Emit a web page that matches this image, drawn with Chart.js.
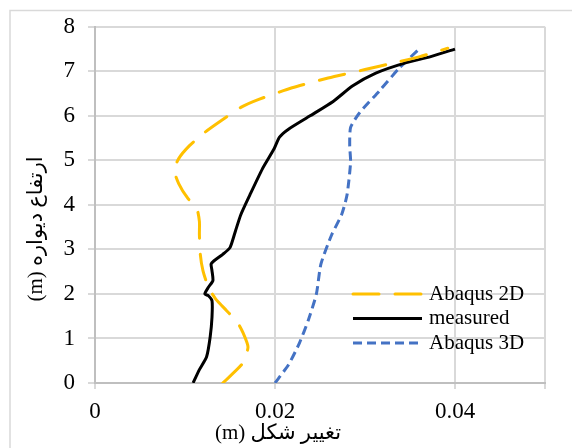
<!DOCTYPE html>
<html>
<head>
<meta charset="utf-8">
<script src="https://cdn.jsdelivr.net/npm/chart.js@4.4.1/dist/chart.umd.min.js"></script>
<style>
  body { margin: 0; background: #fff; }
  canvas { display: block; }
</style>
</head>
<body>
<canvas id="graficoDeformacion" width="572" height="448"></canvas>
<script>
// ------------------------------------------------ DATOS ------------------------------------------------

const abaqus2dX = [0.0142, 0.0164, 0.0170, 0.0164, 0.0158, 0.0146, 0.0134, 0.0126, 0.0120, 0.0117, 0.0116, 0.0116, 0.0113, 0.0103, 0.0093, 0.0088, 0.0093, 0.0105, 0.0122, 0.0140, 0.0162, 0.0182, 0.0219, 0.0259, 0.0300, 0.0332, 0.0361, 0.0392];
const abaqus2dY = [0, 0.44, 0.81, 1.15, 1.37, 1.63, 1.89, 2.15, 2.52, 2.89, 3.33, 3.63, 3.93, 4.15, 4.48, 4.78, 5.04, 5.33, 5.63, 5.89, 6.19, 6.37, 6.63, 6.85, 7.04, 7.19, 7.33, 7.52];

const measuredX = [0.0109, 0.0116, 0.0124, 0.0128, 0.0130, 0.0130, 0.0126, 0.0122, 0.0126, 0.0131, 0.0130, 0.0129, 0.0132, 0.0142, 0.0150, 0.0156, 0.0162, 0.0172, 0.0186, 0.0199, 0.0205, 0.0215, 0.0239, 0.0265, 0.0286, 0.0312, 0.0345, 0.0373, 0.0400];
const measuredY = [0, 0.30, 0.59, 1.04, 1.48, 1.85, 1.96, 2.00, 2.15, 2.30, 2.52, 2.67, 2.74, 2.89, 3.04, 3.41, 3.78, 4.22, 4.81, 5.26, 5.52, 5.70, 6.00, 6.33, 6.67, 6.96, 7.19, 7.33, 7.50];

const abaqus3dX = [0.0200, 0.0215, 0.0227, 0.0237, 0.0246, 0.0251, 0.0263, 0.0274, 0.0280, 0.0284, 0.0283, 0.0284, 0.0294, 0.0316, 0.0338, 0.0361];
const abaqus3dY = [0, 0.41, 0.89, 1.41, 2.00, 2.67, 3.33, 3.78, 4.22, 4.96, 5.33, 5.74, 6.07, 6.56, 7.07, 7.52];

const seriesLabels = ['Abaqus 2D', 'measured', 'Abaqus 3D'];
const xTitle = 'تغییر شکل (m)';
const yTitle = 'ارتفاع دیواره (m)';

function puntos(xs, ys) {
    return xs.map((x, i) => ({ x: x, y: ys[i] }));
}

const fuente = "'Liberation Serif', 'Times New Roman', 'DejaVu Sans', serif";

// ------------------------------------------- LEYENDA Y TITULOS ----------------------------------------------

const decorPlugin = {
    id: 'decor',
    beforeDraw(chart) {
        const ctx = chart.ctx;
        ctx.save();
        ctx.strokeStyle = '#d9d9d9';
        ctx.lineWidth = 1.5;
        ctx.strokeRect(10, 10.5, 700, 700);
        ctx.restore();
    },
    afterDraw(chart) {
        const ctx = chart.ctx;
        ctx.save();

        // leyenda dentro del area
        chart.data.datasets.forEach((ds, i) => {
            const y = 294 + i * 24.5;
            ctx.beginPath();
            ctx.strokeStyle = ds.borderColor;
            ctx.lineWidth = ds.borderWidth;
            ctx.lineCap = ds.borderCapStyle || 'butt';
            ctx.setLineDash(ds.borderDash || []);
            ctx.moveTo(353, y);
            ctx.lineTo(422, y);
            ctx.stroke();
            ctx.setLineDash([]);
            ctx.fillStyle = '#000';
            ctx.font = '21px ' + fuente;
            ctx.textAlign = 'left';
            ctx.textBaseline = 'middle';
            ctx.fillText(ds.label, 429, y);
        });

        // titulos de ejes
        ctx.fillStyle = '#000';
        ctx.font = '21px ' + fuente;
        ctx.direction = 'rtl';
        ctx.textAlign = 'center';
        ctx.textBaseline = 'middle';
        ctx.fillText(xTitle, 278, 433);

        ctx.translate(36, 229);
        ctx.rotate(-Math.PI / 2);
        ctx.fillText(yTitle, 0, 0);
        ctx.restore();
    }
};

// ------------------------------------------- GRAFICO ----------------------------------------------

const configDeformacion = {
    type: 'scatter',
    data: {
        datasets: [{
            label: seriesLabels[0],
            data: puntos(abaqus2dX, abaqus2dY),
            borderColor: '#FFC000',
            borderWidth: 3,
            borderDash: [26, 16],
            borderCapStyle: 'round',
            showLine: true,
            tension: 0.2,
            pointRadius: 0
        },
        {
            label: seriesLabels[1],
            data: puntos(measuredX, measuredY),
            borderColor: '#000000',
            borderWidth: 3,
            showLine: true,
            tension: 0.2,
            pointRadius: 0
        },
        {
            label: seriesLabels[2],
            data: puntos(abaqus3dX, abaqus3dY),
            borderColor: '#4472C4',
            borderWidth: 3,
            borderDash: [9, 5],
            showLine: true,
            tension: 0.2,
            pointRadius: 0
        }]
    },
    options: {
        responsive: false,
        animation: false,
        layout: { padding: { left: 0, right: 27, top: 24, bottom: 0 } },
        plugins: {
            legend: { display: false },
            tooltip: { enabled: false }
        },
        scales: {
            x: {
                type: 'linear',
                min: 0,
                max: 0.05,
                afterFit: (scale) => { scale.height = 65; },
                ticks: {
                    stepSize: 0.02,
                    padding: 9,
                    color: '#000',
                    font: { size: 23, family: fuente },
                    callback: (v) => {
                        if (Math.abs(v - 0.05) < 1e-9) return '';
                        return v === 0 ? '0' : v.toFixed(2);
                    }
                },
                grid: { color: '#d9d9d9', lineWidth: 2, tickLength: 6 },
                border: { color: '#bfbfbf', width: 2 }
            },
            y: {
                min: 0,
                max: 8,
                afterFit: (scale) => { scale.width = 95; },
                ticks: {
                    stepSize: 1,
                    padding: 13,
                    color: '#000',
                    font: { size: 23, family: fuente }
                },
                grid: { color: '#d9d9d9', lineWidth: 2, tickLength: 7 },
                border: { color: '#bfbfbf', width: 2 }
            }
        }
    },
    plugins: [decorPlugin]
};

var deformacionChart = new Chart(
    document.getElementById('graficoDeformacion'),
    configDeformacion
);
</script>
</body>
</html>
